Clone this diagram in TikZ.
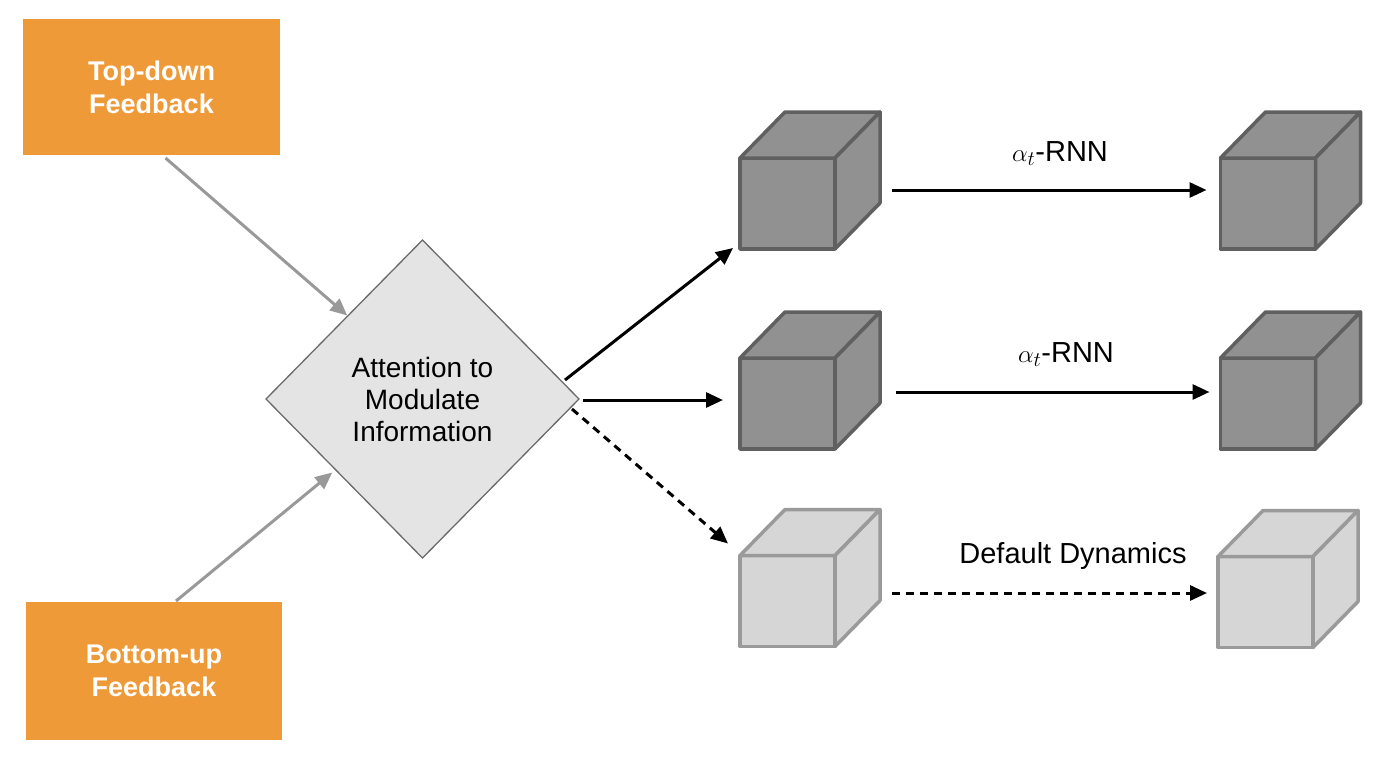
\documentclass[tikz,border=0pt]{standalone}
\usepackage{fontspec}
\setmainfont{Liberation Sans}
\usetikzlibrary{shapes.geometric,arrows.meta,calc}
\definecolor{orng}{HTML}{EF9A38}
\definecolor{cubedark}{HTML}{919191}
\definecolor{cubedarkline}{HTML}{606060}
\definecolor{cubelight}{HTML}{D6D6D6}
\definecolor{cubelightline}{HTML}{9A9A9A}
\definecolor{diafill}{HTML}{E4E4E4}
\definecolor{dialine}{HTML}{6A6A6A}
\definecolor{garrowc}{HTML}{999999}
\newcommand\drawcube[5]{%
  \node[cubefront, fill=#4, draw=#5] (#1) at (#2,#3) {};
  \draw[fill=#4, draw=#5, line width=3.5pt, line join=round]
    (#1.north west) -- ++(45,-46) -- ++(95,0) -- (#1.north east) -- cycle;
  \draw[fill=#4, draw=#5, line width=3.5pt, line join=round]
    (#1.north east) -- ++(45,-46) -- ++(0,91) -- (#1.south east) -- cycle;
}
\begin{document}
\begin{tikzpicture}[x=1pt,y=-1pt,
  fbbox/.style={rectangle, fill=orng, draw=none, inner sep=0pt, outer sep=0pt,
    text=white, align=center, font=\fontsize{27}{33}\selectfont\bfseries},
  diabox/.style={diamond, fill=diafill, draw=dialine, line width=1.3pt,
    minimum width=313pt, minimum height=318pt, inner sep=0pt, outer sep=0pt,
    align=center, font=\fontsize{28}{32}\selectfont},
  cubefront/.style={rectangle, minimum width=95pt, minimum height=91pt,
    inner sep=0pt, outer sep=0pt, line width=3.5pt, line join=round},
  garrow/.style={draw=garrowc, line width=3pt, -{Triangle[length=17pt,width=15pt]}},
  barrow/.style={draw=black, line width=3pt, -{Triangle[length=17pt,width=15pt]}},
  dbarrow/.style={barrow, dash pattern=on 8pt off 6pt},
  lbl/.style={anchor=base, font=\fontsize{29}{34}\selectfont}
]
\useasboundingbox (0,0) rectangle (1398,764);

% feedback boxes
\node[fbbox, minimum width=257pt, minimum height=136pt] (td) at (151.5,87) {Top-down\\Feedback};
\node[fbbox, minimum width=256pt, minimum height=138pt] (bu) at (154,671) {Bottom-up\\Feedback};

% diamond
\node[diabox] (dia) at (422.5,399) {Attention to\\Modulate\\Information};

% cubes
\drawcube{c1}{787.5}{203.5}{cubedark}{cubedarkline}
\drawcube{c2}{1268}{203.5}{cubedark}{cubedarkline}
\drawcube{c3}{787.5}{403.5}{cubedark}{cubedarkline}
\drawcube{c4}{1268}{403.5}{cubedark}{cubedarkline}
\drawcube{c5}{787.5}{601}{cubelight}{cubelightline}
\drawcube{c6}{1265.5}{602}{cubelight}{cubelightline}

% feedback arrows
\draw[garrow] ($(td.south)+(14,3)$) -- ($(dia.north west)+(3,-4)$);
\draw[garrow] ($(bu.north)+(22,-1)$) -- ($(dia.south west)+(-12,-6)$);

% attention arrows
\draw[barrow] ($(dia.east)+(-14,-19)$) -- ($(c1.south west)+(-7,-1)$);
\draw[barrow] ($(dia.east)+(4,1)$) -- ($(c3.west)+(-17,-3.5)$);
\draw[dbarrow] ($(dia.east)+(-7,10)$) -- ($(c5.north west)+(-12,-12)$);

% row arrows
\draw[barrow] ($(c1.east)+(57,-13.5)$) -- ($(c2.west)+(-14,-13.5)$);
\draw[barrow] ($(c3.east)+(61,-11.5)$) -- ($(c4.west)+(-11,-11.5)$);
\draw[dbarrow] ($(c5.east)+(57,-8)$) -- ($(c6.west)+(-11,-9)$);

% labels
\node[lbl] (l1) at (1060,161) {$\alpha_t$-RNN};
\node[lbl] (l2) at (1066,362) {$\alpha_t$-RNN};
\node[lbl] (l3) at (1073,563) {Default Dynamics};
\end{tikzpicture}
\end{document}
